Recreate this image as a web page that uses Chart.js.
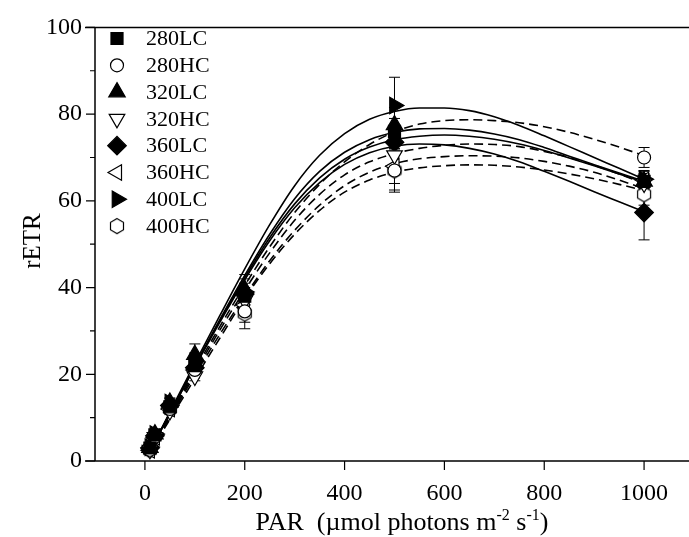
<!DOCTYPE html>
<html>
<head>
<meta charset="utf-8">
<script src="https://cdn.jsdelivr.net/npm/chart.js@4/dist/chart.umd.min.js"></script>
<style>
  html, body { margin: 0; padding: 0; background: #fff; }
</style>
</head>
<body>
<canvas id="chart" width="689" height="537"></canvas>
<script>
// PAR levels of the measured points
const parLevels = [10, 20, 50, 100, 200, 500, 1000];
const seriesNames = ["280LC", "280HC", "320LC", "320HC", "360LC", "360HC", "400LC", "400HC"];

// measured rETR (means)
const etr280LC = [3.0, 6.0, 12.5, 22.0, 38.0, 76.0, 64.5];
const etr280HC = [2.6, 5.6, 12.0, 21.0, 34.5, 67.0, 70.0];
const etr320LC = [3.1, 6.2, 13.5, 24.5, 39.5, 77.5, 64.5];
const etr320HC = [2.6, 5.5, 11.5, 19.5, 37.0, 70.5, 64.0];
const etr360LC = [3.0, 5.8, 12.8, 21.5, 38.5, 73.5, 57.3];
const etr360HC = [2.5, 5.5, 12.0, 21.0, 36.0, 68.0, 64.8];
const etr400LC = [3.2, 6.2, 13.5, 23.0, 39.0, 82.0, 65.0];
const etr400HC = [2.5, 5.8, 12.0, 21.0, 34.0, 67.0, 61.5];

// error bars (SD)
const sd280LC = [0.4, 0.5, 0.8, 1.2, 2.0, 3.0, 1.5];
const sd280HC = [0.4, 0.5, 0.8, 1.2, 2.5, 4.5, 2.3];
const sd320LC = [0.4, 0.5, 1.0, 2.5, 3.5, 4.0, 1.8];
const sd320HC = [0.4, 0.5, 0.8, 1.0, 2.5, 4.0, 2.0];
const sd360LC = [0.4, 0.5, 0.8, 1.2, 2.5, 3.0, 6.3];
const sd360HC = [0.4, 0.5, 0.8, 1.2, 2.5, 4.0, 2.0];
const sd400LC = [0.4, 0.5, 1.0, 1.5, 3.0, 6.5, 2.0];
const sd400HC = [0.4, 0.5, 0.8, 1.2, 3.5, 5.0, 2.5];

// fitted light curves
const fitPAR = [10, 50, 100, 150, 200, 250, 300, 350, 400, 450, 500, 550, 600, 650, 700, 750, 800, 850, 900, 950, 1000];
const fit280LC = [2.2, 11.0, 21.8, 32.3, 42.3, 51.5, 59.3, 65.3, 69.6, 72.4, 74.1, 74.9, 75.2, 74.9, 74.2, 73.1, 71.6, 69.9, 68.1, 66.2, 64.3];
const fit320LC = [2.2, 11.1, 22.0, 32.6, 42.8, 52.3, 60.5, 66.8, 71.2, 74.1, 75.8, 76.6, 76.7, 76.3, 75.4, 74.1, 72.3, 70.3, 68.3, 66.4, 64.5];
const fit360LC = [2.2, 11.0, 21.7, 32.0, 41.8, 50.8, 58.4, 64.2, 68.4, 71.1, 72.6, 73.1, 72.9, 72.1, 70.8, 69.0, 66.8, 64.5, 62.1, 59.8, 57.5];
const fit400LC = [2.3, 11.3, 22.5, 33.5, 44.3, 54.5, 63.5, 70.5, 75.5, 78.8, 80.6, 81.4, 81.4, 80.8, 79.4, 77.4, 75.0, 72.5, 70.0, 67.5, 65.0];
const fit280HC = [2.1, 10.5, 21.0, 31.0, 40.5, 49.4, 57.3, 63.8, 69.0, 73.0, 75.9, 77.7, 78.5, 78.7, 78.5, 78.0, 77.1, 75.8, 74.2, 72.4, 70.4];
const fit320HC = [2.1, 10.3, 20.4, 30.2, 39.4, 48.0, 55.5, 61.5, 66.0, 69.0, 70.9, 72.1, 72.8, 73.1, 73.0, 72.5, 71.4, 70.0, 68.2, 66.2, 64.0];
const fit360HC = [2.0, 10.0, 19.8, 29.2, 38.0, 46.2, 53.2, 59.0, 63.5, 66.6, 68.6, 69.7, 70.2, 70.4, 70.3, 69.9, 69.1, 68.0, 66.6, 64.8, 62.8];
const fit400HC = [1.9, 9.6, 19.0, 28.3, 37.5, 45.5, 52.3, 57.8, 62.0, 64.8, 66.6, 67.6, 68.1, 68.3, 68.2, 67.8, 67.1, 66.2, 65.1, 63.8, 62.4];

// axis ticks
const xTicks = [0, 200, 400, 600, 800, 1000];
const yTicks = [0, 20, 40, 60, 80, 100];
const yMinorTicks = [10, 30, 50, 70, 90];

const FONT = "'Liberation Serif', 'Times New Roman', serif";

function hexagonImage(r, lw) {
  const s = Math.ceil(2 * r + lw * 2 + 2);
  const c = document.createElement("canvas");
  c.width = s; c.height = s;
  const g = c.getContext("2d");
  g.beginPath();
  for (let k = 0; k < 6; k++) {
    const ang = Math.PI / 180 * (60 * k - 90);
    const px = s / 2 + r * Math.cos(ang), py = s / 2 + r * Math.sin(ang);
    if (k) g.lineTo(px, py); else g.moveTo(px, py);
  }
  g.closePath();
  g.fillStyle = "#fff"; g.fill();
  g.lineWidth = lw; g.strokeStyle = "#000"; g.stroke();
  return c;
}

const markers = [
  { style: "rect", rot: 0, r: 8.5, open: false },
  { style: "circle", rot: 0, r: 6.5, open: true },
  { style: "triangle", rot: 0, r: 9.5, open: false },
  { style: "triangle", rot: 180, r: 9, open: true },
  { style: "rectRot", rot: 0, r: 9.3, open: false },
  { style: "triangle", rot: 270, r: 9, open: true },
  { style: "triangle", rot: 90, r: 9.5, open: false },
  { style: hexagonImage(7.5, 1.2), rot: 0, r: 7.5, open: true },
];

const means = [etr280LC, etr280HC, etr320LC, etr320HC, etr360LC, etr360HC, etr400LC, etr400HC];
const errors = [sd280LC, sd280HC, sd320LC, sd320HC, sd360LC, sd360HC, sd400LC, sd400HC];
const fits = [fit280LC, fit280HC, fit320LC, fit320HC, fit360LC, fit360HC, fit400LC, fit400HC];

const pointSets = seriesNames.map((name, i) => ({
  label: name,
  data: parLevels.map((p, j) => ({ x: p, y: means[i][j] })),
  pointStyle: markers[i].style,
  rotation: markers[i].rot,
  pointRadius: markers[i].r,
  pointBackgroundColor: markers[i].open ? "#fff" : "#000",
  pointBorderColor: "#000",
  pointBorderWidth: 1.2,
  showLine: false,
}));

const curveSets = seriesNames.map((name, i) => ({
  label: name + " fit",
  data: fitPAR.map((p, j) => ({ x: p, y: fits[i][j] })),
  showLine: true,
  pointRadius: 0,
  borderColor: "#000",
  borderWidth: 1.6,
  borderDash: name.endsWith("HC") ? [9, 5] : [],
  cubicInterpolationMode: "monotone",
  fill: false,
}));

const errorBars = {
  id: "errorBars",
  beforeDatasetsDraw(chart) {
    const { ctx, scales: { x, y } } = chart;
    ctx.save();
    ctx.strokeStyle = "#000";
    ctx.lineWidth = 1;
    means.forEach((vals, i) => {
      vals.forEach((v, j) => {
        const px = x.getPixelForValue(parLevels[j]);
        const top = y.getPixelForValue(v + errors[i][j]);
        const bot = y.getPixelForValue(v - errors[i][j]);
        ctx.beginPath();
        ctx.moveTo(px, top); ctx.lineTo(px, bot);
        ctx.moveTo(px - 5.5, top); ctx.lineTo(px + 5.5, top);
        ctx.moveTo(px - 5.5, bot); ctx.lineTo(px + 5.5, bot);
        ctx.stroke();
      });
    });
    ctx.restore();
  },
};

const decor = {
  id: "decor",
  afterDraw(chart) {
    const { ctx, chartArea: a, scales: { x, y } } = chart;
    ctx.save();
    ctx.strokeStyle = "#000";
    ctx.lineWidth = 1.5;
    ctx.beginPath();
    ctx.moveTo(a.left - 10, a.top); ctx.lineTo(a.right, a.top);
    ctx.moveTo(a.left - 10, a.bottom); ctx.lineTo(a.right, a.bottom);
    ctx.moveTo(a.left, a.top); ctx.lineTo(a.left, a.bottom);
    ctx.stroke();

    ctx.lineWidth = 1.2;
    ctx.beginPath();
    yTicks.forEach(v => {
      const py = y.getPixelForValue(v);
      ctx.moveTo(a.left - 9, py); ctx.lineTo(a.left, py);
    });
    yMinorTicks.forEach(v => {
      const py = y.getPixelForValue(v);
      ctx.moveTo(a.left - 5, py); ctx.lineTo(a.left, py);
    });
    xTicks.forEach(v => {
      const px = x.getPixelForValue(v);
      ctx.moveTo(px, a.bottom); ctx.lineTo(px, a.bottom + 9);
    });
    ctx.stroke();

    // legend
    ctx.font = "22px " + FONT;
    ctx.fillStyle = "#000";
    ctx.textBaseline = "middle";
    ctx.textAlign = "left";
    seriesNames.forEach((name, i) => {
      const ly = 38.5 + i * 26.8;
      const m = markers[i];
      ctx.fillStyle = m.open ? "#fff" : "#000";
      ctx.strokeStyle = "#000";
      ctx.lineWidth = 1.2;
      Chart.helpers.drawPoint(ctx, { pointStyle: m.style, rotation: m.rot, radius: m.r, borderWidth: 1.2 }, 117, ly);
      ctx.fillStyle = "#000";
      ctx.fillText(name, 146, ly + 1);
    });

    // axis titles
    ctx.textBaseline = "alphabetic";
    const parts = [
      ["PAR  (\u00b5mol photons m", 26, 0],
      ["-2", 16, -10],
      [" s", 26, 0],
      ["-1", 16, -10],
      [")", 26, 0],
    ];
    let total = 0;
    parts.forEach(p => { ctx.font = p[1] + "px " + FONT; total += ctx.measureText(p[0]).width; });
    let cx = 402 - total / 2;
    const base = 530;
    parts.forEach(p => {
      ctx.font = p[1] + "px " + FONT;
      ctx.fillText(p[0], cx, base + p[2]);
      cx += ctx.measureText(p[0]).width;
    });

    ctx.font = "25px " + FONT;
    ctx.translate(33, 241);
    ctx.rotate(-Math.PI / 2);
    ctx.textAlign = "center";
    ctx.textBaseline = "middle";
    ctx.fillText("rETR", 0, 0);
    ctx.restore();
  },
};

new Chart(document.getElementById("chart"), {
  type: "scatter",
  data: { datasets: [...pointSets, ...curveSets] },
  options: {
    responsive: false,
    animation: false,
    layout: { autoPadding: false, padding: { top: 21, right: 0, left: 0, bottom: 0 } },
    plugins: { legend: { display: false }, tooltip: { enabled: false } },
    scales: {
      x: {
        type: "linear",
        min: -100,
        max: 1090,
        grid: { display: false, drawTicks: false },
        border: { display: false },
        afterBuildTicks: s => { s.ticks = xTicks.map(v => ({ value: v })); },
        afterFit: s => { s.height = 76; s.paddingRight = 0; s.paddingLeft = 0; },
        ticks: { color: "#000", padding: 18, maxRotation: 0, font: { family: FONT, size: 24 }, callback: v => String(v) },
      },
      y: {
        type: "linear",
        min: 0,
        max: 100,
        grid: { display: false, drawTicks: false },
        border: { display: false },
        afterBuildTicks: s => { s.ticks = yTicks.map(v => ({ value: v })); },
        afterFit: s => { s.width = 95; },
        ticks: { color: "#000", padding: 13, font: { family: FONT, size: 24 }, callback: v => String(v) },
      },
    },
  },
  plugins: [errorBars, decor],
});
</script>
</body>
</html>
